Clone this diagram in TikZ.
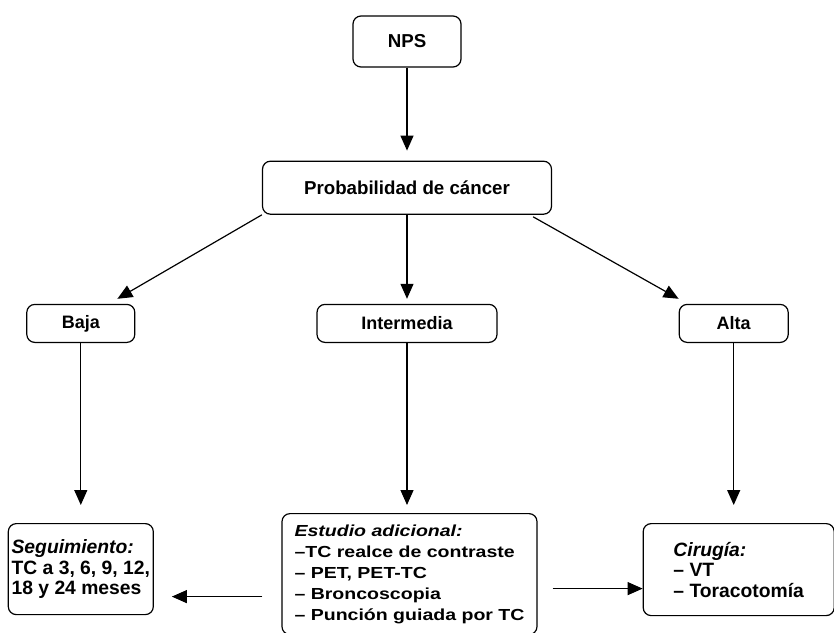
\documentclass[tikz,border=0pt]{standalone}
\usepackage{fontspec}
\setmainfont{Liberation Sans}
\usepackage{tikz}
\usetikzlibrary{positioning,arrows.meta,calc}
\tikzstyle{layer} = [rectangle, draw=black, line width=1.2pt, rounded corners=8pt, inner sep=3pt, align=center]
\tikzstyle{top_box} = [layer, font=\fontsize{18.7}{20}\selectfont\bfseries]
\tikzstyle{mid_box} = [layer, minimum height=38pt, font=\fontsize{18}{20}\selectfont\bfseries]
\tikzstyle{end_box} = [layer, align=left, font=\fontsize{19.3}{20.5}\selectfont\bfseries]
\tikzstyle{EST_FONT} = [font=\fontsize{16}{21}\selectfont\bfseries\addfontfeature{FakeStretch=1.22}]
\tikzstyle{link} = [line width=1.2pt, -{Triangle[length=15pt,width=13pt]}]

\begin{document}
\begin{tikzpicture}
      \useasboundingbox (0,0) rectangle (834pt,-632pt);

      \node[top_box, minimum width=108pt, minimum height=51pt] (NPS) at (407pt,-41.5pt) {NPS};
      \node[top_box, minimum width=289pt, minimum height=53pt, below=93pt of NPS] (PROB) {Probabilidad de cáncer};

      %%%%%%%%%%%%%%%%%%%%%%%%%%%%%%%%%%%%%%%%%%%%%%%%%
      % PROBABILIDAD
      %%%%%%%%%%%%%%%%%%%%%%%%%%%%%%%%%%%%%%%%%%%%%%%%%
      \node[mid_box, minimum width=180pt, below=89pt of PROB] (INT) {Intermedia};
      \node[mid_box, minimum width=108pt, left=181pt of INT] (BAJA) {Baja};
      \node[mid_box, minimum width=109pt, right=181pt of INT] (ALTA) {Alta};

      %%%%%%%%%%%%%%%%%%%%%%%%%%%%%%%%%%%%%%%%%%%%%%%%%
      % CONDUCTA
      %%%%%%%%%%%%%%%%%%%%%%%%%%%%%%%%%%%%%%%%%%%%%%%%%
      \node[end_box, minimum width=145pt, minimum height=91pt, below=180pt of BAJA] (SEG)
            {\textit{Seguimiento:}\\TC a 3, 6, 9, 12,\\18 y 24 meses};
      \node[end_box, EST_FONT, minimum width=255pt, minimum height=121pt, below=170pt of INT, xshift=2.5pt] (EST)
            {\textit{Estudio adicional:}\\--TC realce de contraste\\-- PET, PET-TC\\-- Broncoscopia\\-- Punción guiada por TC};
      \node[end_box, minimum width=191pt, minimum height=92pt, below=180pt of ALTA, xshift=5pt] (CIR)
            {\textit{Cirugía:}\\-- VT\\-- Toracotomía};

      % flechas
      \draw[link, shorten >=10pt] (NPS.south) -- (PROB.north);
      \draw[link] (PROB.south west) -- ([xshift=-18pt,yshift=5pt]BAJA.north east);
      \draw[link, shorten >=5pt] (PROB.south) -- (INT.north);
      \draw[link] ([xshift=-19pt,yshift=-2pt]PROB.south east) -- ([yshift=5pt]ALTA.north west);

      \draw[link, shorten >=18pt] (BAJA.south) -- (BAJA.south |- SEG.north);
      \draw[link, shorten >=8pt] (INT.south) -- (INT.south |- EST.north);
      \draw[link, shorten >=18pt] (ALTA.south) -- (ALTA.south |- CIR.north);

      \coordinate (L) at ([yshift=-22.5pt]EST.west);
      \coordinate (R) at ([yshift=-14.5pt]EST.east);
      \draw[link, shorten <=19pt, shorten >=18pt] (L) -- (L -| SEG.east);
      \draw[link, shorten <=15pt] (R) -- (R -| CIR.west);
\end{tikzpicture}
\end{document}
